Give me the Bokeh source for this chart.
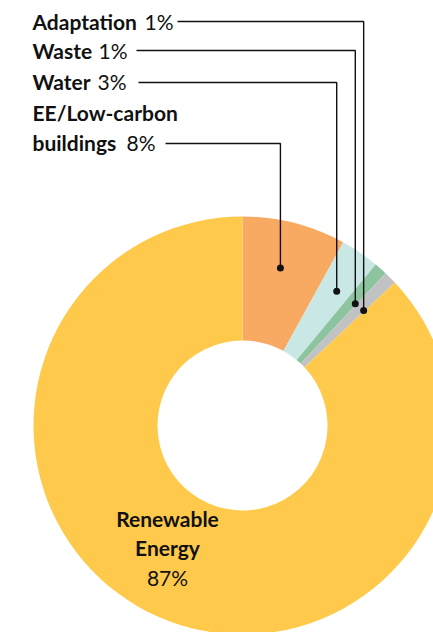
import math
from bokeh.plotting import figure
from bokeh.models import Range1d
from bokeh.core.properties import value
from bokeh.embed import file_html
from bokeh.resources import INLINE

# ---- data ----
categories = ["EE/Low-carbon buildings", "Water", "Waste", "Adaptation", "Renewable Energy"]
shares = [8, 3, 1, 1, 87]
pct_labels = ["8%", "3%", "1%", "1%", "87%"]
colors = ["#F8AA62", "#C9E8E5", "#8DC4A0", "#C1C2C4", "#FFCA4C"]

# ---- layout (screen pixels, y measured from top of page) ----
W, H = 433, 632
CX, CY = 242, 425
R_OUT, R_IN = 209, 85
FONT = value("Lato")
FS = "21px"
INK = "#111111"
TXT_SHIFT = -9

def Y(sy):
    return 632 - sy

p = figure(width=W, height=H, x_range=Range1d(0, W), y_range=Range1d(632 - H, 632),
           output_backend="svg", toolbar_location=None, min_border=0,
           background_fill_color="white", border_fill_color="white")
p.outline_line_color = None
p.axis.visible = False
p.grid.visible = False

total = float(sum(shares))
cum = 0.0
starts, ends = [], []
for s in shares:
    starts.append(math.pi / 2 - 2 * math.pi * cum / total)
    cum += s
    ends.append(math.pi / 2 - 2 * math.pi * cum / total)

p.annular_wedge(x=CX, y=Y(CY), inner_radius=R_IN, outer_radius=R_OUT,
                start_angle=starts, end_angle=ends, direction="clock",
                fill_color=colors, line_color=None)

# callout layout for the four small slices
# (name lines, last baseline y, pct x, leader y, leader start x, anchor fraction in slice, anchor radius)
callouts = {
    "Adaptation": (["Adaptation"], 30, 144, 21, 177, 0.92, 167),
    "Waste": (["Waste"], 59, 98, 50, 136, 0.89, 166),
    "Water": (["Water"], 90, 97, 82, 138, 0.58, 164),
    "EE/Low-carbon buildings": (["EE/Low-carbon", "buildings"], 151, 126, 143, 165, 0.47, 162),
}
LX = 32
LINE_H = 30

xs, ys, dx, dy = [], [], [], []
for i, cat in enumerate(categories):
    if cat not in callouts:
        continue
    lines, base, px, ly, lsx, frac, rr = callouts[cat]
    base = base + TXT_SHIFT
    n = len(lines)
    for k, ln in enumerate(lines):
        p.text(x=[LX], y=[Y(base - (n - 1 - k) * LINE_H)], text=[ln], text_font=FONT,
               text_font_style="bold", text_font_size=FS, text_color=INK,
               text_align="left", text_baseline="alphabetic")
    p.text(x=[px], y=[Y(base)], text=[pct_labels[i]], text_font=FONT,
           text_font_size=FS, text_color=INK, text_align="left", text_baseline="alphabetic")
    ang = starts[i] + (ends[i] - starts[i]) * frac
    ax = CX + rr * math.cos(ang)
    ay = Y(CY) + rr * math.sin(ang)
    xs.append([lsx, ax, ax])
    ys.append([Y(ly), Y(ly), ay])
    dx.append(ax)
    dy.append(ay)

p.multi_line(xs=xs, ys=ys, line_color=INK, line_width=1.4)
p.scatter(x=dx, y=dy, size=7, fill_color=INK, line_color=None)

# renewable label inside the ring
ri = categories.index("Renewable Energy")
RX = 167
for k, ln in enumerate(["Renewable", "Energy"]):
    p.text(x=[RX], y=[Y(527 + TXT_SHIFT + k * 29)], text=[ln], text_font=FONT, text_font_style="bold",
           text_font_size=FS, text_color=INK, text_align="center", text_baseline="alphabetic")
p.text(x=[RX], y=[Y(586 + TXT_SHIFT)], text=[pct_labels[ri]], text_font=FONT, text_font_size=FS,
       text_color=INK, text_align="center", text_baseline="alphabetic")

open("out.html", "w").write(file_html(p, INLINE))
